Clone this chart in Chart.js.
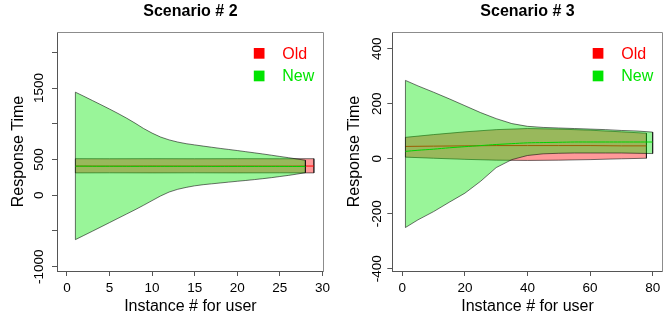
<!DOCTYPE html>
<html>
<head>
<meta charset="utf-8">
<script src="https://cdn.jsdelivr.net/npm/chart.js@4/dist/chart.umd.min.js"></script>
<style>
html,body{margin:0;padding:0;background:#fff;}
#wrap{display:flex;width:668px;height:321px;}
.panel{position:relative;width:334px;height:321px;}
canvas{display:block;}
</style>
</head>
<body>
<div id="wrap">
  <div class="panel"><canvas id="c2" width="334" height="321"></canvas></div>
  <div class="panel"><canvas id="c3" width="334" height="321"></canvas></div>
</div>
<script>
const FONT = "'Liberation Sans', Arial, Helvetica, sans-serif";

const legendLabels = ['Old', 'New'];
const xAxisTitle = 'Instance # for user';
const yAxisTitle = 'Response Time';

// ---------- Scenario # 2 ----------
const s2Title = 'Scenario # 2';
const s2XTicks = [0, 5, 10, 15, 20, 25, 30];
const s2XTickLabels = ['0', '5', '10', '15', '20', '25', '30'];
const s2YTicks = [-1000, -500, 0, 500, 1000, 1500, 2000];
const s2YTickLabels = ['-1000', '', '0', '500', '', '1500', ''];

const s2NewX = [1, 2, 3, 4, 5, 6, 7, 8, 9, 10, 11, 12, 13, 14, 15, 16, 17, 18, 19, 20, 21, 22, 23, 24, 25, 26, 27, 28];
const s2NewUpper = [1443, 1385, 1326, 1267, 1207, 1145, 1080, 1010, 935, 870, 815, 775, 745, 722, 705, 688, 672, 656, 641, 626, 610, 594, 578, 561, 543, 526, 508, 490];
const s2NewLower = [-621, -562, -503, -443, -383, -323, -263, -203, -140, -75, -10, 45, 83, 110, 132, 148, 160, 172, 184, 196, 207, 219, 232, 246, 262, 278, 296, 316];
const s2NewMean = [407, 407, 406, 406, 406, 406, 405, 405, 405, 405, 405, 405, 405, 405, 405, 405, 404, 404, 404, 404, 404, 404, 404, 404, 404, 403, 403, 403];

const s2OldX = [1, 5, 10, 15, 20, 25, 29];
const s2OldUpper = [512, 511, 512, 511, 512, 511, 512];
const s2OldLower = [313, 314, 313, 314, 313, 314, 313];
const s2OldMean = [409, 408, 409, 408, 409, 408, 409];

// ---------- Scenario # 3 ----------
const s3Title = 'Scenario # 3';
const s3XTicks = [0, 20, 40, 60, 80];
const s3XTickLabels = ['0', '20', '40', '60', '80'];
const s3YTicks = [-400, -200, 0, 200, 400];
const s3YTickLabels = ['-400', '-200', '0', '200', '400'];

const s3NewX = [1, 5, 10, 15, 20, 25, 30, 35, 40, 45, 50, 55, 60, 65, 70, 75, 80];
const s3NewUpper = [285, 265, 242, 218, 193, 168, 146, 128, 118, 114, 112, 110, 108, 106, 103, 101, 97];
const s3NewLower = [-250, -222, -192, -158, -125, -82, -32, -3, 12, 18, 20, 21, 21, 21, 21, 20, 19];
const s3NewMean = [27, 31, 35, 40, 44, 48, 52, 55, 58, 59, 60, 61, 61, 61, 61, 61, 61];

const s3OldX = [1, 10, 20, 30, 40, 50, 60, 70, 78];
const s3OldUpper = [78, 88, 98, 106, 110, 108, 104, 98, 93];
const s3OldLower = [6, 2, -2, -5, -6, -5, -3, 0, 2];
const s3OldMean = [45, 46, 47, 48, 48, 48, 48, 47, 47];

// ---------- helpers ----------
function band(xs, upper, lower) {
  const pts = xs.map((x, i) => ({x: x, y: upper[i]}));
  for (let i = xs.length - 1; i >= 0; i--) pts.push({x: xs[i], y: lower[i]});
  pts.push({x: xs[0], y: upper[0]});
  return pts;
}
function series(xs, ys) {
  return xs.map((x, i) => ({x: x, y: ys[i]}));
}

const OLD_FILL = 'rgba(255,0,0,0.4)';
const NEW_FILL = 'rgba(0,230,0,0.4)';
const OUTLINE = 'rgba(0,0,0,0.55)';
const OLD_LINE = 'rgb(255,0,0)';
const NEW_LINE = 'rgb(0,210,0)';
const OLD_KEY = 'rgb(255,0,0)';
const NEW_KEY = 'rgb(0,228,0)';

const rBox = {
  id: 'rBox',
  afterDatasetsDraw(chart) {
    const {ctx, chartArea: a} = chart;
    ctx.save();
    ctx.strokeStyle = '#8c8c8c';
    ctx.lineWidth = 1;
    const t = Math.round(a.top) + 0.5;
    const r = Math.round(a.right) - 0.5;
    ctx.beginPath();
    ctx.moveTo(Math.round(a.left), t);
    ctx.lineTo(r, t);
    ctx.lineTo(r, Math.round(a.bottom) + 1);
    ctx.stroke();
    ctx.restore();
  }
};

const rLegend = {
  id: 'rLegend',
  afterDatasetsDraw(chart, args, opts) {
    const {ctx, chartArea: a} = chart;
    ctx.save();
    ctx.font = '16px ' + FONT;
    ctx.textBaseline = 'alphabetic';
    ctx.textAlign = 'left';
    opts.items.forEach((it, i) => {
      const top = a.top + 16 + i * 22.6;
      ctx.fillStyle = it.color;
      ctx.fillRect(a.right - 70, top, 10.7, 10.7);
      ctx.fillText(it.label, a.right - 41.5, top + 10.8);
    });
    ctx.restore();
  }
};

function makeChart(id, c) {
  const datasets = [
    {label: legendLabels[0], data: band(c.oldX, c.oldUpper, c.oldLower), showLine: true, fill: 'shape',
     backgroundColor: OLD_FILL, borderColor: OUTLINE, borderWidth: 1, pointRadius: 0, tension: 0, order: 4},
    {label: legendLabels[0] + ' mean', data: series(c.oldX, c.oldMean), showLine: true, fill: false,
     borderColor: OLD_LINE, borderWidth: 1, pointRadius: 0, tension: 0, order: 3},
    {label: legendLabels[1], data: band(c.newX, c.newUpper, c.newLower), showLine: true, fill: 'shape',
     backgroundColor: NEW_FILL, borderColor: OUTLINE, borderWidth: 1, pointRadius: 0, tension: 0, order: 2},
    {label: legendLabels[1] + ' mean', data: series(c.newX, c.newMean), showLine: true, fill: false,
     borderColor: NEW_LINE, borderWidth: 1, pointRadius: 0, tension: 0.3, order: 1}
  ];
  return new Chart(document.getElementById(id), {
    type: 'scatter',
    data: {datasets: datasets},
    options: {
      responsive: false,
      animation: false,
      devicePixelRatio: 1,
      events: [],
      layout: {padding: {left: 0, right: c.padRight, top: 0, bottom: 0}},
      plugins: {
        legend: {display: false},
        tooltip: {enabled: false},
        title: {
          display: true, text: c.title, fullSize: false, color: '#000',
          font: {family: FONT, size: 16, weight: 'bold'},
          padding: {top: 2.4, bottom: 10.4}
        },
        rLegend: {items: [{label: legendLabels[0], color: OLD_KEY}, {label: legendLabels[1], color: NEW_KEY}]}
      },
      scales: {
        x: {
          type: 'linear', min: c.xMin, max: c.xMax, bounds: 'data',
          afterBuildTicks: s => { s.ticks = c.xTicks.map(v => ({value: v})); },
          afterFit: s => { s.height = 50; },
          grid: {display: true, drawOnChartArea: false, drawTicks: true, tickLength: 5, tickColor: '#555', tickWidth: 1},
          border: {display: true, color: '#555', width: 1},
          ticks: {font: {family: FONT, size: 13.5}, color: '#000', padding: 4, maxRotation: 0, minRotation: 0, autoSkip: false,
                  callback: (v, i) => c.xLabels[i]},
          title: {display: true, text: xAxisTitle, color: '#000', font: {family: FONT, size: 16}, padding: {top: 0, bottom: 4.4}}
        },
        y: {
          type: 'linear', min: c.yMin, max: c.yMax, bounds: 'data',
          afterBuildTicks: s => { s.ticks = c.yTicks.map(v => ({value: v})); },
          afterFit: s => { s.width = c.yWidth; },
          grid: {display: true, drawOnChartArea: false, drawTicks: true, tickLength: 5, tickColor: '#555', tickWidth: 1},
          border: {display: true, color: '#555', width: 1},
          ticks: {font: {family: FONT, size: 13.5}, color: '#000', padding: c.yPad, minRotation: 90, maxRotation: 90,
                  crossAlign: 'center', autoSkip: false, callback: (v, i) => c.yLabels[i]},
          title: {display: true, text: yAxisTitle, color: '#000', font: {family: FONT, size: 16}, padding: {top: c.yTitlePad, bottom: 0}}
        }
      }
    },
    plugins: [rBox, rLegend]
  });
}

Chart.defaults.font.family = FONT;

makeChart('c2', {
  title: s2Title,
  xMin: -1.16, xMax: 30.16, yMin: -1060, yMax: 2285,
  xTicks: s2XTicks, xLabels: s2XTickLabels, yTicks: s2YTicks, yLabels: s2YTickLabels,
  oldX: s2OldX, oldUpper: s2OldUpper, oldLower: s2OldLower, oldMean: s2OldMean,
  newX: s2NewX, newUpper: s2NewUpper, newLower: s2NewLower, newMean: s2NewMean,
  yWidth: 57, padRight: 8.5, yPad: -4.6, yTitlePad: 9.4
});

makeChart('c3', {
  title: s3Title,
  xMin: -3.2, xMax: 83.2, yMin: -408, yMax: 461,
  xTicks: s3XTicks, xLabels: s3XTickLabels, yTicks: s3YTicks, yLabels: s3YTickLabels,
  oldX: s3OldX, oldUpper: s3OldUpper, oldLower: s3OldLower, oldMean: s3OldMean,
  newX: s3NewX, newUpper: s3NewUpper, newLower: s3NewLower, newMean: s3NewMean,
  yWidth: 58.3, padRight: 5.3, yPad: -3.7, yTitlePad: 10.7
});
</script>
</body>
</html>
